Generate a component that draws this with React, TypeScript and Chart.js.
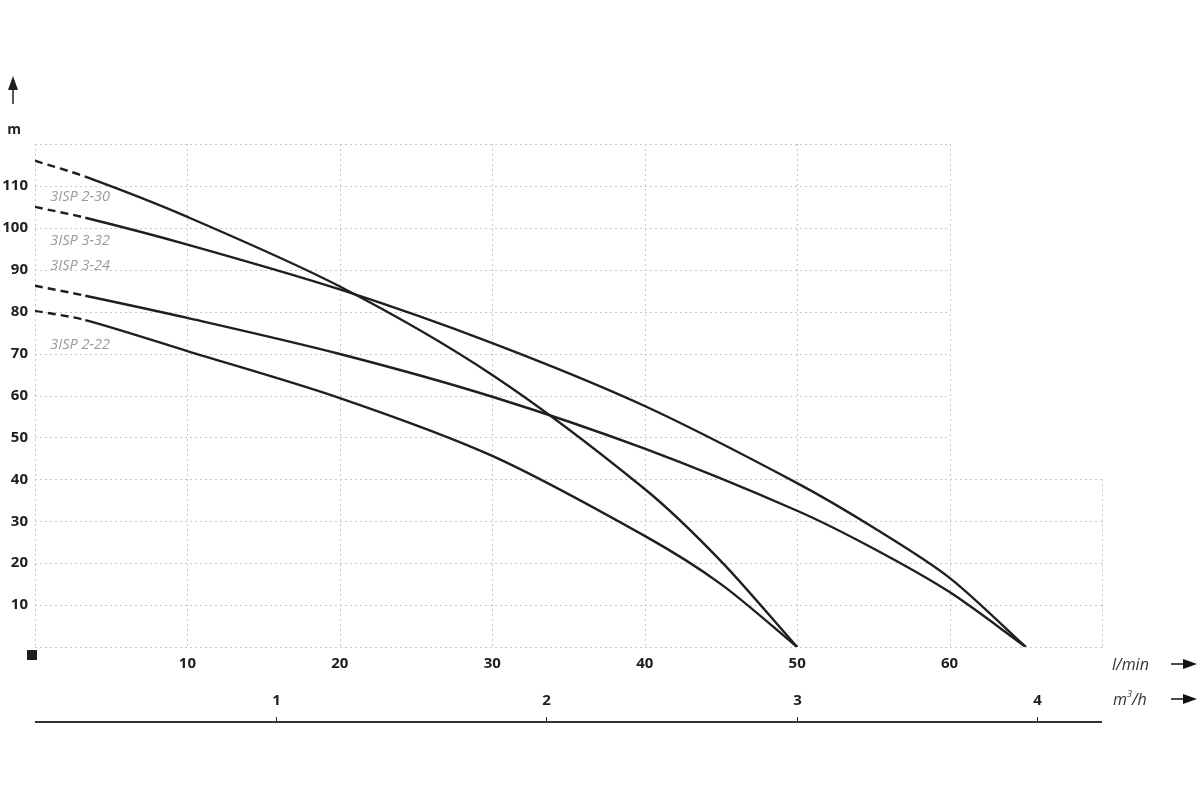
import React, { useEffect, useRef } from "react";
import { Chart, registerables } from "chart.js";

Chart.register(...registerables);

// Flow in l/min
const FLOW_2_30 = [0, 3.3, 10, 20, 30, 40, 45, 50];
const HEAD_2_30 = [116, 112.2, 102.6, 86, 64.9, 37.7, 20.5, 0];

const FLOW_3_32 = [0, 3.3, 10, 20, 30, 40, 50, 55, 60, 65];
const HEAD_3_32 = [105, 102.4, 96, 85.3, 72.5, 57.5, 39.1, 28.5, 16.5, 0];

const FLOW_3_24 = [0, 3.3, 10, 20, 30, 40, 50, 55, 60, 65];
const HEAD_3_24 = [86.2, 83.8, 78.5, 69.9, 59.7, 47.3, 32.5, 23.5, 13.1, 0];

const FLOW_2_22 = [0, 3.3, 10, 20, 30, 40, 45, 50];
const HEAD_2_22 = [80.2, 78, 70.6, 59.4, 45.6, 26.5, 15, 0];

const SERIES_NAMES = ["3ISP 2-30", "3ISP 3-32", "3ISP 3-24", "3ISP 2-22"];
// label anchor positions in data units (l/min, m)
const LABEL_X = [1.0, 1.0, 1.0, 1.0];
const LABEL_Y = [107.4, 96.9, 90.9, 72.1];

const Y_TICKS = [10, 20, 30, 40, 50, 60, 70, 80, 90, 100, 110];
const X_TICKS = [10, 20, 30, 40, 50, 60];
const M3H_LABELS = ["1", "2", "3", "4"];
const M3H_POS = [15.8, 33.5, 50, 65.75]; // in l/min

const X_MAX = 70;
const Y_MAX = 120;

function toPts(xs: number[], ys: number[]) {
  return xs.map((x, i) => ({ x, y: ys[i] }));
}

const overlay = {
  id: "overlay",
  beforeDatasetsDraw(chart: any) {
    const { ctx, scales } = chart;
    const xs = scales.x;
    const ys = scales.y;
    ctx.save();
    ctx.strokeStyle = "#c8c8c8";
    ctx.lineWidth = 1;
    ctx.setLineDash([2, 3]);
    for (let v = 0; v <= Y_MAX; v += 10) {
      const y = Math.round(ys.getPixelForValue(v)) + 0.5;
      const xEnd = v <= 40 ? X_MAX : 60;
      ctx.beginPath();
      ctx.moveTo(xs.getPixelForValue(0), y);
      ctx.lineTo(xs.getPixelForValue(xEnd), y);
      ctx.stroke();
    }
    for (let v = 0; v <= X_MAX; v += 10) {
      const x = Math.round(xs.getPixelForValue(v)) + 0.5;
      const yTop = v <= 60 ? Y_MAX : 40;
      ctx.beginPath();
      ctx.moveTo(x, ys.getPixelForValue(yTop));
      ctx.lineTo(x, ys.getPixelForValue(0));
      ctx.stroke();
    }
    ctx.restore();
  },
  afterDraw(chart: any) {
    const { ctx, scales } = chart;
    const xs = scales.x;
    const ys = scales.y;
    ctx.save();
    ctx.fillStyle = "#1e1e1e";
    ctx.font = "bold 15px 'Open Sans'";
    ctx.textAlign = "right";
    ctx.textBaseline = "middle";
    Y_TICKS.forEach((v) => {
      ctx.fillText(String(v), 28, ys.getPixelForValue(v));
    });
    ctx.textAlign = "center";
    X_TICKS.forEach((v) => {
      ctx.fillText(String(v), xs.getPixelForValue(v), 664);
    });
    ctx.font = "bold 14px 'Open Sans'";
    ctx.fillText("m", 14, 130);
    ctx.strokeStyle = "#1e1e1e";
    ctx.lineWidth = 1.5;
    ctx.beginPath();
    ctx.moveTo(13, 104);
    ctx.lineTo(13, 86);
    ctx.stroke();
    ctx.beginPath();
    ctx.moveTo(13, 76);
    ctx.lineTo(8, 90);
    ctx.lineTo(18, 90);
    ctx.closePath();
    ctx.fill();
    ctx.fillRect(27, 650, 10, 10);

    const axisY = 722;
    ctx.strokeStyle = "#333";
    ctx.lineWidth = 2;
    ctx.beginPath();
    ctx.moveTo(xs.getPixelForValue(0), axisY);
    ctx.lineTo(xs.getPixelForValue(X_MAX), axisY);
    ctx.stroke();
    ctx.lineWidth = 1;
    ctx.font = "bold 15px 'Open Sans'";
    M3H_POS.forEach((p, i) => {
      const x = Math.round(xs.getPixelForValue(p)) + 0.5;
      ctx.beginPath();
      ctx.moveTo(x, axisY);
      ctx.lineTo(x, axisY - 5);
      ctx.stroke();
      ctx.fillText(M3H_LABELS[i], x, 701);
    });

    ctx.fillStyle = "#333";
    ctx.textAlign = "left";
    ctx.font = "italic 16px 'Open Sans'";
    ctx.fillText("l/min", 1112, 665);
    ctx.fillText("m", 1113, 700);
    const mw = ctx.measureText("m").width;
    ctx.font = "italic 9px 'Open Sans'";
    ctx.fillText("3", 1113 + mw, 694);
    ctx.font = "italic 16px 'Open Sans'";
    ctx.fillText("/h", 1113 + mw + 5, 700);

    ctx.fillStyle = "#111";
    ctx.strokeStyle = "#111";
    ctx.lineWidth = 1.5;
    [664, 699].forEach((y) => {
      ctx.beginPath();
      ctx.moveTo(1171, y);
      ctx.lineTo(1186, y);
      ctx.stroke();
      ctx.beginPath();
      ctx.moveTo(1197, y);
      ctx.lineTo(1183, y - 5);
      ctx.lineTo(1183, y + 5);
      ctx.closePath();
      ctx.fill();
    });

    ctx.fillStyle = "#9a9a9a";
    ctx.font = "italic 14.5px 'Open Sans'";
    ctx.textBaseline = "middle";
    SERIES_NAMES.forEach((n, i) => {
      ctx.fillText(n, xs.getPixelForValue(LABEL_X[i]), ys.getPixelForValue(LABEL_Y[i]));
    });
    ctx.restore();
  },
};

function mkDataset(label: string, xs: number[], ys: number[]) {
  return {
    label,
    data: toPts(xs, ys),
    borderColor: "#1f1f1f",
    borderWidth: 2.4,
    pointRadius: 0,
    fill: false,
    tension: 0.3,
    segment: {
      borderDash: (c: any) => (c.p0DataIndex === 0 ? [8, 5] : undefined),
    },
  };
}

export default function App() {
  const ref = useRef<HTMLCanvasElement | null>(null);
  useEffect(() => {
    if (!ref.current) return;
    const chart = new Chart(ref.current, {
      type: "line",
      data: {
        datasets: [
          mkDataset(SERIES_NAMES[0], FLOW_2_30, HEAD_2_30),
          mkDataset(SERIES_NAMES[1], FLOW_3_32, HEAD_3_32),
          mkDataset(SERIES_NAMES[2], FLOW_3_24, HEAD_3_24),
          mkDataset(SERIES_NAMES[3], FLOW_2_22, HEAD_2_22),
        ],
      },
      options: {
        responsive: false,
        animation: false,
        devicePixelRatio: 1,
        layout: { padding: { left: 35, right: 98, top: 144, bottom: 153 } },
        plugins: { legend: { display: false }, tooltip: { enabled: false } },
        scales: {
          x: { type: "linear", min: 0, max: X_MAX, display: false },
          y: { type: "linear", min: 0, max: Y_MAX, display: false },
        },
      },
      plugins: [overlay],
    });
    return () => chart.destroy();
  }, []);
  return (
    <div style={{ position: "absolute", left: 0, top: 0, width: 1200, height: 800, background: "#fff" }}>
      <canvas ref={ref} width={1200} height={800} style={{ width: 1200, height: 800, display: "block" }} />
    </div>
  );
}
